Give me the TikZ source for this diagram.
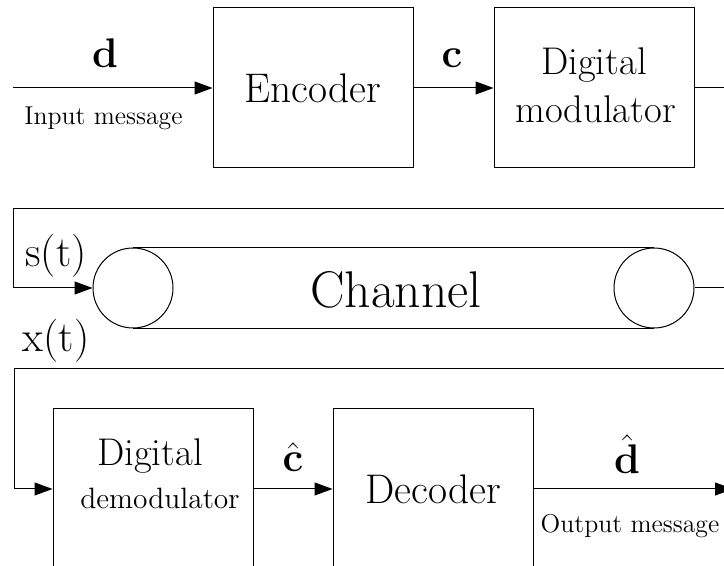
\RequirePackage{fix-cm}
\documentclass[tikz,border=0pt]{standalone}
\usetikzlibrary{arrows.meta}
\begin{document}
\begin{tikzpicture}[x=0.5pt,y=-0.5pt,
  line width=0.5pt,
  >={Triangle[length=9pt,width=6.5pt]},
  block/.style={draw, minimum width=100pt, minimum height=80pt, inner sep=0pt},
  blocktext/.style={font=\fontsize{20.7}{24}\selectfont},
  port/.style={draw, circle, minimum size=40pt, inner sep=0pt},
  sym/.style={anchor=base, inner sep=0pt, font=\fontsize{20.7}{24}\selectfont},
  sig/.style={anchor=base, inner sep=0pt, font=\fontsize{21.5}{25}\selectfont},
  note/.style={anchor=base, inner sep=0pt, font=\fontsize{12.9}{15}\selectfont},
  big/.style={anchor=base, inner sep=0pt, font=\fontsize{19.3}{23}\selectfont},
  mid/.style={anchor=base, inner sep=0pt, font=\fontsize{14.7}{18}\selectfont}]
\useasboundingbox (0,0) rectangle (724,566);
\clip (0,0) rectangle (724,566);

% transmitter chain
\node[block, blocktext] (enc) at (313,88) {Encoder};
\node[block] (mod) at (594,88) {};
\node[big] (modA) at (594,75) {Digital};
\node[big] (modB) at (595.5,123) {modulator};

% channel
\node[port] (cl) at (133,288) {};
\node[port] (cr) at (654,288) {};
\draw (cl.north) -- (cr.north);
\draw (cl.south) -- (cr.south);
\node[anchor=base, inner sep=0pt, font=\fontsize{25.8}{30}\selectfont] (chan) at (396,308) {Channel};

% receiver chain
\node[block] (demod) at (153,489) {};
\node[big] (demodA) at (150,466) {Digital};
\node[mid] (demodB) at (160,509) {demodulator};
\node[block, blocktext] (dec) at (433,489) {Decoder};

% connections
\coordinate (src) at (13,88);
\coordinate (sink) at (733,489);
\draw[->] (src) -- (enc);
\draw[->] (enc) -- (mod);
\draw[->] (mod.east) -- (760,88) |- (13,209) |- (cl.west);
\draw[->] (cr.east) -- (760,288) |- (14,369) |- (demod.west);
\draw[->] (demod) -- (dec);
\draw[->] (dec) -- (sink);

% signal labels
\node[sym] (ld) at (105,68) {$\mathbf{d}$};
\node[note] (lin) at (103.5,125) {Input message};
\node[sym] (lc) at (452,68) {$\mathbf{c}$};
\node[sig] (ls) at (56,267) {s(t)};
\node[sig] (lx) at (56,352) {x(t)};
\node[sym] (lch) at (293,472) {$\hat{\mathbf{c}}$};
\node[sym] (ldh) at (627,474) {$\hat{\mathbf{d}}$};
\node[note] (lout) at (630,533) {Output message};
\end{tikzpicture}
\end{document}
